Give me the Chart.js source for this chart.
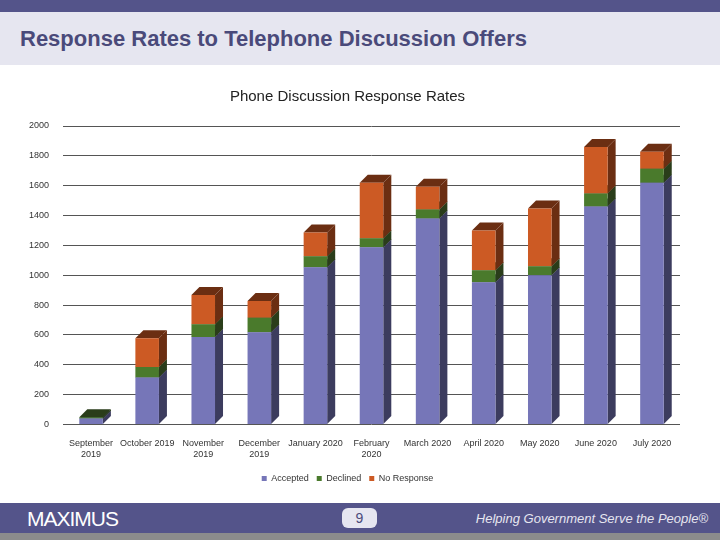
<!DOCTYPE html>
<html>
<head>
<meta charset="utf-8">
<script src="https://cdn.jsdelivr.net/npm/chart.js@4"></script>
<style>
  body { margin: 0; width: 720px; height: 540px; position: relative; background: #fff; font-family: Arial, "Liberation Sans", sans-serif; overflow: hidden; }
  #topbar { position: absolute; left: 0; top: 0; width: 720px; height: 12px; background: #54548a; }
  #titleband { position: absolute; left: 0; top: 12px; width: 720px; height: 53px; background: #e6e6f0; }
  #titleband h1 { margin: 0; position: absolute; left: 20px; top: 14px; font-size: 22px; color: #4a4a7a; font-weight: bold; }
  #chart { position: absolute; left: 15px; top: 88px; }
  #footer { position: absolute; left: 0; top: 503px; width: 720px; height: 30px; background: #54548a; color: #fff; }
  #bottom { position: absolute; left: 0; top: 533px; width: 720px; height: 7px; background: #8c8c8c; }
  #logo { position: absolute; left: 27px; top: 4px; font-size: 21px; letter-spacing: -1px; }
  #page { position: absolute; left: 342px; top: 5px; width: 35px; height: 20px; border-radius: 6px; background: #e6e6f0; color: #4a4a7a; text-align: center; font-size: 14px; line-height: 20px; }
  #tag { position: absolute; right: 12px; top: 8px; font-size: 13px; font-style: italic; color: #e6e6f0; }
</style>
</head>
<body>
<div id="topbar"></div>
<div id="titleband"><h1>Response Rates to Telephone Discussion Offers</h1></div>
<canvas id="chart" width="690" height="405"></canvas>
<div id="footer"><div id="logo">MAXIMUS</div><div id="page">9</div><div id="tag">Helping Government Serve the People®</div></div>
<div id="bottom"></div>
<script>
const months = [['September', '2019'], 'October 2019', ['November', '2019'], ['December', '2019'], 'January 2020',
  ['February', '2020'], 'March 2020', 'April 2020', 'May 2020', 'June 2020', 'July 2020'];
const accepted = [40, 315, 585, 618, 1053, 1187, 1380, 953, 1000, 1460, 1620];
const declined = [8, 70, 86, 97, 74, 60, 60, 80, 60, 87, 93];
const noResponse = [0, 193, 196, 112, 160, 373, 153, 267, 387, 313, 114];
const yTicks = [0, 200, 400, 600, 800, 1000, 1200, 1400, 1600, 1800, 2000];

const sideColors = ['#3c3c5e', '#2a3d1a', '#6b2e12'];
const depth = { x: 8, y: 8 };

// fake 3D: side and top faces from each bar's own geometry
const depthPlugin = {
  id: 'depth',
  beforeDatasetsDraw(chart) {
    const ctx = chart.ctx;
    chart.data.datasets.forEach((ds, di) => {
      chart.getDatasetMeta(di).data.forEach(bar => {
        const p = bar.getProps(['x', 'y', 'base', 'width']);
        if (Math.abs(p.base - p.y) < 0.5) return;
        const r = p.x + p.width / 2, l = p.x - p.width / 2;
        ctx.fillStyle = sideColors[di];
        ctx.beginPath();
        ctx.moveTo(r, p.y); ctx.lineTo(r + depth.x, p.y - depth.y);
        ctx.lineTo(r + depth.x, p.base - depth.y); ctx.lineTo(r, p.base);
        ctx.closePath(); ctx.fill();
        ctx.beginPath();
        ctx.moveTo(l, p.y); ctx.lineTo(l + depth.x, p.y - depth.y);
        ctx.lineTo(r + depth.x, p.y - depth.y); ctx.lineTo(r, p.y);
        ctx.closePath(); ctx.fill();
      });
    });
  }
};

new Chart(document.getElementById('chart'), {
  type: 'bar',
  data: {
    labels: months,
    datasets: [
      { label: 'Accepted', data: accepted, backgroundColor: '#7676b8' },
      { label: 'Declined', data: declined, backgroundColor: '#4a7a2c' },
      { label: 'No Response', data: noResponse, backgroundColor: '#cc5a24' }
    ]
  },
  options: {
    responsive: false,
    animation: false,
    layout: { padding: { right: 25, top: 0 } },
    datasets: { bar: { barPercentage: 0.42, categoryPercentage: 1 } },
    plugins: {
      title: { display: true, text: 'Phone Discussion Response Rates', color: '#222', font: { size: 15, weight: 'normal' }, padding: { top: 0, bottom: 20 } },
      legend: { position: 'bottom', labels: { boxWidth: 5, boxHeight: 5, font: { size: 9 }, color: '#333', padding: 8 } },
      tooltip: { enabled: false }
    },
    scales: {
      x: {
        stacked: true,
        grid: { display: false },
        border: { display: false },
        ticks: { font: { size: 9 }, color: '#333', maxRotation: 0, autoSkip: false, padding: 6 }
      },
      y: {
        stacked: true,
        min: 0, max: 2000,
        afterBuildTicks: axis => { axis.ticks = yTicks.map(v => ({ value: v })); },
        grid: { color: '#555', lineWidth: 1, drawTicks: false },
        border: { display: false },
        ticks: { font: { size: 9 }, color: '#333', padding: 14, autoSkip: false, callback: v => String(v) }
      }
    }
  },
  plugins: [depthPlugin]
});
</script>
</body>
</html>
